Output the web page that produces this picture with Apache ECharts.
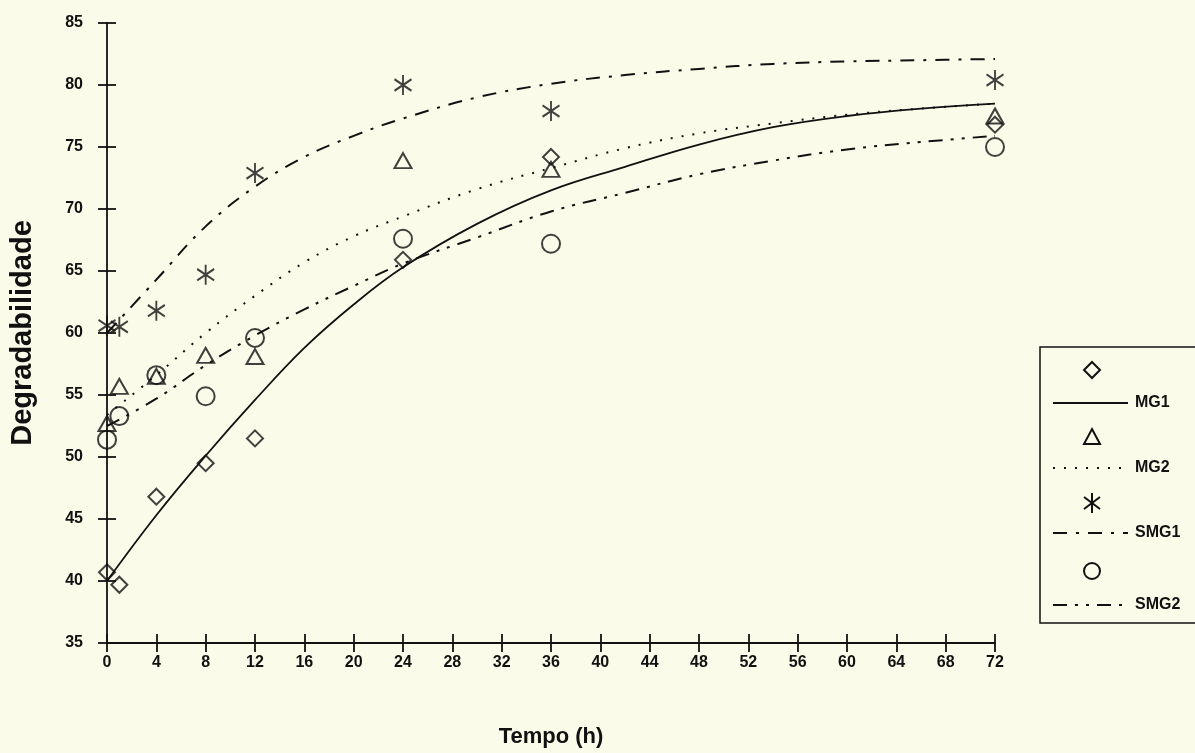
<!DOCTYPE html>
<html>
<head>
<meta charset="utf-8">
<script src="https://cdn.jsdelivr.net/npm/echarts@6/dist/echarts.min.js"></script>
<style>
  html, body { margin: 0; padding: 0; background: #fbfbea; }
  #chart { width: 1195px; height: 753px; }
</style>
</head>
<body>
<div id="chart"></div>
<script>
// tempos de incubação (h) e degradabilidade observada
var hours = [0, 1, 4, 8, 12, 24, 36, 72];
var mg1Obs = [40.7, 39.7, 46.8, 49.5, 51.5, 65.9, 74.2, 76.8];
var mg2Obs = [52.7, 55.7, 56.5, 58.2, 58.1, 73.9, 73.2, 77.5];
var smg1Obs = [60.6, 60.5, 61.8, 64.7, 72.9, 80.0, 77.9, 80.4];
var smg2Obs = [51.4, 53.3, 56.6, 54.9, 59.6, 67.6, 67.2, 75.0];

// curvas ajustadas
var curveHours = [0, 4, 8, 12, 16, 20, 24, 30, 36, 42, 48, 54, 60, 66, 72];
var mg1Fit = [40.0, 45.3, 50.1, 54.6, 58.8, 62.3, 65.3, 68.8, 71.5, 73.4, 75.2, 76.6, 77.5, 78.1, 78.5];
var mg2Fit = [53.4, 56.6, 60.0, 63.0, 65.7, 67.8, 69.4, 71.6, 73.3, 74.9, 76.1, 76.9, 77.6, 78.1, 78.5];
var smg1Fit = [60.0, 64.3, 68.6, 71.8, 74.2, 75.9, 77.3, 79.0, 80.1, 80.8, 81.3, 81.7, 81.9, 82.0, 82.1];
var smg2Fit = [52.5, 54.7, 57.4, 59.8, 61.9, 63.8, 65.6, 67.7, 69.8, 71.3, 72.8, 73.9, 74.8, 75.4, 75.9];

var legendNames = ['MG1', 'MG2', 'SMG1', 'SMG2'];

var ink = '#111';
var font = 'Liberation Sans, Arial, sans-serif';
var starPath = 'path://M0,-10L0,10M-8.2,-5.7L8.2,5.7M-8.2,5.7L8.2,-5.7';

function pairs(xs, ys) {
  return xs.map(function (x, i) { return [x, ys[i]]; });
}

function fitLine(name, ys, dash, width) {
  return {
    name: name,
    type: 'line',
    data: pairs(curveHours, ys),
    smooth: 0.4,
    showSymbol: false,
    silent: true,
    z: 2,
    lineStyle: { color: ink, width: width, type: dash, cap: 'butt' }
  };
}

function obs(name, ys, symbol, size) {
  return {
    name: name,
    type: 'scatter',
    data: pairs(hours, ys),
    symbol: symbol,
    symbolSize: size,
    z: 3,
    itemStyle: { color: 'rgba(0,0,0,0)', borderColor: ink, borderWidth: 2 }
  };
}

// legenda desenhada à mão (marcador numa linha, traço + nome na seguinte)
var lx = 1092, lineX0 = 1053, lineX1 = 1128, tx = 1135;
var rows = [370, 403, 437, 468, 503, 533, 571, 605];
var dashes = ['solid', [2, 9], [14, 9, 3, 9], [14, 8, 3, 8, 3, 8]];
var legendGraphics = [
  { type: 'rect', shape: { x: 1040, y: 347, width: 200, height: 276 },
    style: { fill: 'none', stroke: ink, lineWidth: 1.5 } },
  { type: 'polygon', shape: { points: [[lx, rows[0] - 8], [lx + 8, rows[0]], [lx, rows[0] + 8], [lx - 8, rows[0]]] },
    style: { fill: 'none', stroke: ink, lineWidth: 2 } },
  { type: 'polygon', shape: { points: [[lx, rows[2] - 8], [lx + 8, rows[2] + 7], [lx - 8, rows[2] + 7]] },
    style: { fill: 'none', stroke: ink, lineWidth: 2 } },
  { type: 'line', shape: { x1: lx, y1: rows[4] - 10, x2: lx, y2: rows[4] + 10 }, style: { stroke: ink, lineWidth: 2 } },
  { type: 'line', shape: { x1: lx - 8, y1: rows[4] - 6, x2: lx + 8, y2: rows[4] + 6 }, style: { stroke: ink, lineWidth: 2 } },
  { type: 'line', shape: { x1: lx - 8, y1: rows[4] + 6, x2: lx + 8, y2: rows[4] - 6 }, style: { stroke: ink, lineWidth: 2 } },
  { type: 'circle', shape: { cx: lx, cy: rows[6], r: 8 }, style: { fill: 'none', stroke: ink, lineWidth: 2 } }
];
legendNames.forEach(function (n, i) {
  var y = rows[2 * i + 1];
  legendGraphics.push({
    type: 'line', shape: { x1: lineX0, y1: y, x2: lineX1, y2: y },
    style: { stroke: ink, lineWidth: 2, lineDash: dashes[i] === 'solid' ? null : dashes[i] }
  });
  legendGraphics.push({
    type: 'text', x: tx, y: y,
    style: { text: n, fill: ink, font: 'bold 16px ' + font, textVerticalAlign: 'middle', textAlign: 'left' }
  });
});

var chart = echarts.init(document.getElementById('chart'));
chart.setOption({
  backgroundColor: '#fbfbea',
  animation: false,
  textStyle: { fontFamily: font },
  grid: { left: 107, right: 200, top: 23, bottom: 110, outerBoundsMode: 'none', containLabel: false },
  xAxis: [{
    type: 'value', min: 0, max: 72, interval: 4,
    name: 'Tempo (h)', nameLocation: 'middle', nameGap: 83,
    nameTextStyle: { color: ink, fontSize: 22, fontWeight: 'bold' },
    axisLine: { lineStyle: { color: ink, width: 1.8 } },
    axisTick: { inside: false, length: 9, lineStyle: { color: ink, width: 1.8 } },
    axisLabel: { color: ink, fontSize: 16, fontWeight: 'bold', margin: 12 },
    splitLine: { show: false }
  }, {
    type: 'value', min: 0, max: 72, interval: 4, position: 'bottom',
    axisLine: { show: false },
    axisTick: { inside: true, length: 9, lineStyle: { color: ink, width: 1.8 } },
    axisLabel: { show: false }, splitLine: { show: false }
  }],
  yAxis: [{
    type: 'value', min: 35, max: 85, interval: 5,
    name: 'Degradabilidade', nameLocation: 'middle', nameGap: 70,
    nameTextStyle: { color: ink, fontSize: 29, fontWeight: 'bold' },
    axisLine: { show: true, lineStyle: { color: ink, width: 1.8 } },
    axisTick: { show: true, inside: false, length: 9, lineStyle: { color: ink, width: 1.8 } },
    axisLabel: { color: ink, fontSize: 16, fontWeight: 'bold', margin: 24 },
    splitLine: { show: false }
  }, {
    type: 'value', min: 35, max: 85, interval: 5, position: 'left',
    axisLine: { show: false },
    axisTick: { show: true, inside: true, length: 9, lineStyle: { color: ink, width: 1.8 } },
    axisLabel: { show: false }, splitLine: { show: false }
  }],
  graphic: legendGraphics,
  series: [
    fitLine('MG1', mg1Fit, 'solid', 1.8),
    fitLine('MG2', mg2Fit, [2, 9], 2),
    fitLine('SMG1', smg1Fit, [14, 9, 3, 9], 2),
    fitLine('SMG2', smg2Fit, [14, 8, 3, 8, 3, 8], 2),
    obs('MG1 obs', mg1Obs, 'diamond', [16, 16]),
    obs('MG2 obs', mg2Obs, 'triangle', [17, 15]),
    obs('SMG1 obs', smg1Obs, starPath, [17, 20]),
    obs('SMG2 obs', smg2Obs, 'circle', 18)
  ]
});
</script>
</body>
</html>
